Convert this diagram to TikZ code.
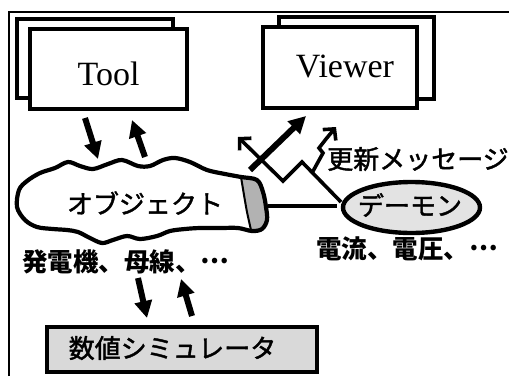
\documentclass[tikz,border=0pt]{standalone}
\usepackage{fontspec}
\setmainfont{Liberation Serif}
\newfontfamily\jpfont{Noto Sans CJK JP}
\newfontfamily\jpmed[FakeBold=1.6]{Noto Sans CJK JP}
\usetikzlibrary{arrows.meta,shapes.geometric}
\newcommand{\midell}{\raisebox{0.33em}{…}}
\begin{document}
\begin{tikzpicture}[x=1pt,y=-1pt,
  winbox/.style={draw,line width=4pt,fill=white,inner sep=0pt},
  latin/.style={font=\fontsize{34}{40}\selectfont,inner sep=0pt,anchor=base},
  jp/.style={font=\jpmed\fontsize{26}{30}\selectfont,inner sep=0pt},
  jpb/.style={font=\jpfont\bfseries\fontsize{25.5}{30}\selectfont,inner sep=0pt},
  fatarrow/.style={line width=6pt,-{Triangle[length=17pt,width=17pt]}},
  zigarrow/.style={line width=3.6pt,line join=miter,-{Straight Barb[length=8pt,width=17pt,line width=3.6pt]}},
  cloudline/.style={line width=4.2pt,line join=round},
]
\useasboundingbox (0,0) rectangle (509,376);
\draw[line width=2.4pt] (9,376) -- (9,12) -- (509,12);

% Tool windows
\node[winbox,minimum width=156pt,minimum height=79pt] (toolback) at (95,58.5) {};
\node[winbox,minimum width=157pt,minimum height=80pt] (tool) at (108.5,69) {};
\node[latin] (toollabel) at (108.5,85) {Tool};

% Viewer windows
\node[winbox,minimum width=155pt,minimum height=82pt] (viewerback) at (356.5,58) {};
\node[winbox,minimum width=154pt,minimum height=81pt] (viewer) at (340,67.5) {};
\node[latin] (viewerlabel) at (345,77) {Viewer};

% Cloud (object)
\path[fill=white] plot[smooth cycle,tension=0.55] coordinates {
 (17,207) (19,190) (27,181) (40,173) (55,168) (68,162) (80,166) (93,169) (108,164) (122,160)
 (138,166) (150,166) (163,160) (175,158) (190,162) (207,170) (225,174) (241,177)
 (257,180) (263,192) (266,207) (267,220) (262,229) (252,231)
 (238,228) (220,228) (200,228) (185,229) (170,231) (157,236) (140,239) (127,236)
 (113,240) (102,243) (90,238) (78,232) (67,230) (53,229) (37,227) (25,220)};
\begin{scope}
\clip plot[smooth cycle,tension=0.55] coordinates {
 (17,207) (19,190) (27,181) (40,173) (55,168) (68,162) (80,166) (93,169) (108,164) (122,160)
 (138,166) (150,166) (163,160) (175,158) (190,162) (207,170) (225,174) (241,177)
 (257,180) (263,192) (266,207) (267,220) (262,229) (252,231)
 (238,228) (220,228) (200,228) (185,229) (170,231) (157,236) (140,239) (127,236)
 (113,240) (102,243) (90,238) (78,232) (67,230) (53,229) (37,227) (25,220)};
\fill[gray!60] plot[smooth] coordinates {(240,165) (241,177) (244,195) (247,212) (251,230) (253,240)}
  -- (290,240) -- (290,165) -- cycle;
\end{scope}
\draw[cloudline] plot[smooth cycle,tension=0.55] coordinates {
 (17,207) (19,190) (27,181) (40,173) (55,168) (68,162) (80,166) (93,169) (108,164) (122,160)
 (138,166) (150,166) (163,160) (175,158) (190,162) (207,170) (225,174) (241,177)
 (257,180) (263,192) (266,207) (267,220) (262,229) (252,231)
 (238,228) (220,228) (200,228) (185,229) (170,231) (157,236) (140,239) (127,236)
 (113,240) (102,243) (90,238) (78,232) (67,230) (53,229) (37,227) (25,220)};
\draw[line width=2pt] plot[smooth] coordinates {(241,177) (244,195) (247,212) (251,230)};
\node[jp] (object) at (145,203) {オブジェクト};
\coordinate (blob) at (268,206);

% Daemon
\node[draw,ellipse,line width=4.4pt,fill=gray!22,minimum width=137pt,minimum height=51pt,inner sep=0pt] (demon) at (411.5,207.5) {};
\node[jp] (demonlabel) at (410,205) {デーモン};
\draw[line width=3.6pt,shorten >=4pt] (blob) -- (blob -| demon.west);

% Lists
\node[jpb,anchor=west] (objlist) at (22,262) {発電機、母線、\midell};
\node[jpb,anchor=west] (demonlist) at (316,249) {電流、電圧、\midell};

% Update message arrows
\coordinate (z0) at (341,202);
\coordinate (z1) at (302,162);
\coordinate (z2) at (283,181);
\coordinate (z3) at (238,137);
\draw[zigarrow] (z0) -- (z1) -- (z2) -- (z3);
\coordinate (l0) at (312,173);
\coordinate (l1) at (336,127);
\draw[zigarrow] (l0) -- (323,153) -- (319,148) -- (326,139) -- (l1);
\coordinate (v0) at (250,170);
\coordinate (v1) at (306,116);
\draw[fatarrow] (v0) -- (v1);
\node[jp] (msg) at (418,159) {更新メッセージ};

% Tool <-> object
\coordinate (t0) at (85,118);
\coordinate (t1) at (98,159);
\coordinate (t2) at (145,157);
\coordinate (t3) at (132,120);
\draw[fatarrow] (t0) -- (t1);
\draw[fatarrow] (t2) -- (t3);

% object <-> simulator
\coordinate (s0) at (138,278);
\coordinate (s1) at (147,318);
\coordinate (s2) at (192,316);
\coordinate (s3) at (181,279);
\draw[fatarrow] (s0) -- (s1);
\draw[fatarrow] (s2) -- (s3);

% Simulator
\node[draw,line width=4pt,fill=gray!30,minimum width=270pt,minimum height=45pt,inner sep=0pt] (sim) at (182,349.5) {};
\node[jp] (simlabel) at (172.5,348) {数値シミュレータ};
\end{tikzpicture}
\end{document}
